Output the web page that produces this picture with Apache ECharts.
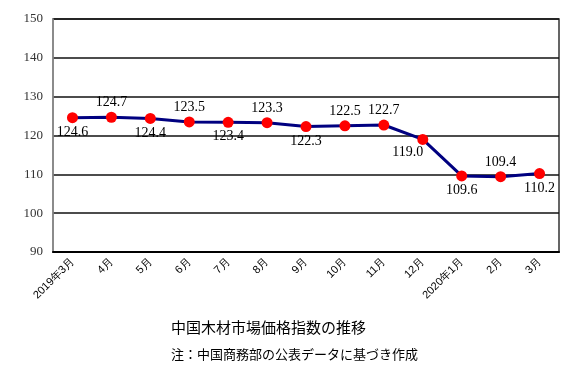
<!DOCTYPE html>
<html>
<head>
<meta charset="utf-8">
<script src="https://cdn.jsdelivr.net/npm/echarts@6/dist/echarts.min.js"></script>
<style>
  html, body { margin: 0; padding: 0; background: #fff; }
  #chart { width: 585px; height: 377px; }
</style>
</head>
<body>
<div id="chart"></div>
<script>
const months = ["2019年3月", "4月", "5月", "6月", "7月", "8月", "9月", "10月", "11月", "12月", "2020年1月", "2月", "3月"];
const priceIndex = [124.6, 124.7, 124.4, 123.5, 123.4, 123.3, 122.3, 122.5, 122.7, 119.0, 109.6, 109.4, 110.2];
// where each value label sits relative to its point
const labelSides = ["bottom", "top", "bottom", "top", "bottom", "top", "bottom", "top", "top", "bottom", "bottom", "top", "bottom"];

const chart = echarts.init(document.getElementById("chart"));

const option = {
  animation: false,
  title: [
    {
      text: "中国木材市場価格指数の推移",
      left: 166,
      top: 315,
      textStyle: { fontFamily: "Noto Sans CJK JP", fontSize: 15, fontWeight: "normal", color: "#000" },
    },
    {
      text: "注：中国商務部の公表データに基づき作成",
      left: 166,
      top: 343,
      textStyle: { fontFamily: "Noto Sans CJK JP", fontSize: 13, fontWeight: "normal", color: "#000" },
    },
  ],
  grid: {
    left: 53,
    right: 26,
    top: 19,
    bottom: 125,
    show: true,
    borderColor: "#333",
    borderWidth: 1.5,
  },
  xAxis: {
    type: "category",
    data: months,
    axisLine: { lineStyle: { color: "#000", width: 2 } },
    axisTick: { inside: true, length: 4, lineStyle: { color: "#000", width: 1.5 } },
    axisLabel: {
      rotate: 45,
      color: "#000",
      fontSize: 11,
      fontFamily: "Liberation Sans",
      margin: 8,
    },
  },
  yAxis: {
    type: "value",
    min: 90,
    max: 150,
    interval: 10,
    axisLine: { show: true, lineStyle: { color: "#999", width: 1.5 } },
    axisTick: { show: false },
    axisLabel: { color: "#333", fontSize: 13, fontFamily: "Liberation Serif", margin: 10 },
    splitLine: { lineStyle: { color: "#111", width: 1.5 } },
  },
  series: [
    {
      type: "line",
      data: priceIndex.map((v, i) => ({
        value: v,
        label: {
          position: labelSides[i],
          offset: i === 9 ? [-15, -2] : [0, 0],
        },
      })),
      symbol: "circle",
      symbolSize: 11,
      itemStyle: { color: "#ff0000" },
      lineStyle: { color: "#000080", width: 3 },
      label: {
        show: true,
        distance: 2,
        color: "#000",
        fontSize: 14,
        fontFamily: "Liberation Serif",
        formatter: (p) => p.value.toFixed(1),
      },
    },
  ],
};

chart.setOption(option);
</script>
</body>
</html>
